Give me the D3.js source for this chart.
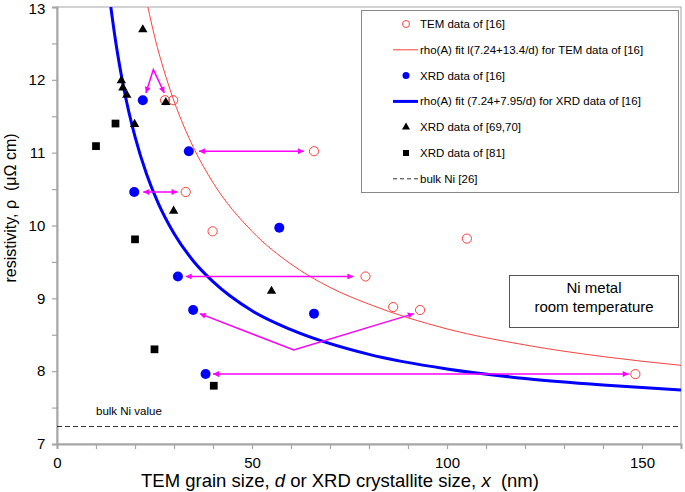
<!DOCTYPE html>
<html lang="en">
  <head>
    <title>Ni resistivity vs grain size</title>
    <script type="text/javascript" src="https://d3js.org/d3.v7.min.js"></script>
    <style>
      body { margin: 0; background: #fff; }
      text { font-family: Arial, "Liberation Sans", sans-serif; fill: #000; }
    </style>
  </head>

  <body>
    <div id="my_dataviz"></div>

    <script>
      // data
      const temX = [27.7, 29.8, 65.9, 33.0, 39.9, 105.1, 79.1, 86.2, 93.1, 148.3];
      const temY = [11.72, 11.72, 11.02, 10.46, 9.92, 9.82, 9.30, 8.88, 8.84, 7.96];

      const xrdX = [22.0, 33.8, 19.8, 57.0, 31.0, 34.9, 65.9, 38.1];
      const xrdY = [11.72, 11.02, 10.46, 9.97, 9.30, 8.84, 8.79, 7.96];

      const triX = [22.0, 16.5, 16.9, 17.9, 27.9, 19.9, 29.9, 55.0];
      const triY = [12.69, 11.99, 11.89, 11.79, 11.69, 11.39, 10.20, 9.10];

      const sqX = [10.0, 15.0, 20.0, 25.0, 40.2];
      const sqY = [11.09, 11.40, 9.81, 8.30, 7.80];

      // fit curves
      const temFitX = [23.3, 25, 28, 30, 35, 40, 50, 60, 70, 80, 100, 120, 140, 160];
      const temFitY = [13.0, 12.60, 12.03, 11.71, 11.07, 10.59, 9.92, 9.47, 9.15, 8.92, 8.58, 8.36, 8.20, 8.08];

      const xrdFitX = [13.8, 15, 17, 20, 23, 26, 30, 35, 40, 50, 60, 80, 100, 120, 140, 160];
      const xrdFitY = [13.0, 12.54, 11.92, 11.22, 10.70, 10.30, 9.89, 9.51, 9.23, 8.83, 8.57, 8.23, 8.03, 7.90, 7.81, 7.74];

      const bulkNi = 7.24;

      // magenta arrows: list of [x, y] points, head at both ends
      const arrows = [
        [[22.8, 11.82], [24.7, 12.14], [27.5, 11.82]],
        [[36.4, 11.02], [63.3, 11.02]],
        [[22.1, 10.46], [30.9, 10.46]],
        [[33.0, 9.30], [76.0, 9.30]],
        [[36.6, 8.79], [60.7, 8.29], [91.5, 8.79]],
        [[40.0, 7.96], [146.6, 7.96]]
      ];

      const xTicks = [0, 50, 100, 150];
      const yTicks = [7, 8, 9, 10, 11, 12, 13];

      const legendLabels = [
        "TEM data of [16]",
        "rho(A) fit l(7.24+13.4/d) for TEM data of [16]",
        "XRD data of [16]",
        "rho(A) fit (7.24+7.95/d) for XRD data of [16]",
        "XRD data of [69,70]",
        "XRD data of [81]",
        "bulk Ni [26]"
      ];

      const redC = "#ff4040", blueC = "#0000ff", magC = "#ff00ff", axisC = "#a6a6a6";

      let margin = {top: 7, right: 4, bottom: 48, left: 57},
      width = 685 - margin.left - margin.right,
      height = 492 - margin.top - margin.bottom;

      let svg = d3.select("#my_dataviz")
        .append("svg")
          .attr("width", 685)
          .attr("height", 492);

      let defs = svg.append("defs");
      defs.append("clipPath").attr("id", "clip")
        .append("rect").attr("width", width).attr("height", height);
      defs.append("marker")
          .attr("id", "head")
          .attr("viewBox", "0 0 10 10")
          .attr("refX", 10).attr("refY", 5)
          .attr("markerWidth", 5).attr("markerHeight", 4)
          .attr("markerUnits", "strokeWidth")
          .attr("orient", "auto-start-reverse")
        .append("path")
          .attr("d", "M0,0L10,5L0,10Z")
          .attr("fill", magC);

      let g = svg.append("g")
          .attr("transform", "translate(" + margin.left + "," + margin.top + ")");

      let x = d3.scaleLinear().domain([0, 160]).range([0, width]);
      let y = d3.scaleLinear().domain([7, 13]).range([height, 0]);

      // frame
      g.append("rect")
        .attr("width", width).attr("height", height)
        .attr("fill", "none").attr("stroke", axisC).attr("stroke-width", 1);

      // axes with minor ticks
      let xAxis = g.append("g")
        .attr("transform", "translate(0," + height + ")")
        .call(d3.axisBottom(x).tickValues(d3.range(0, 161, 10)).tickSize(5)
          .tickFormat(d => xTicks.includes(d) ? d : ""));
      let yAxis = g.append("g")
        .call(d3.axisLeft(y).tickValues(d3.range(7, 13.01, 0.5)).tickSize(5)
          .tickFormat(d => yTicks.includes(d) ? d : ""));
      [xAxis, yAxis].forEach(a => {
        a.select(".domain").attr("stroke", axisC).attr("stroke-width", 2);
        a.selectAll(".tick line").attr("stroke", axisC).attr("stroke-width", 1.2);
        a.selectAll("text").style("font-size", "15px").attr("fill", "#000");
      });
      xAxis.selectAll("text").attr("dy", "1.05em");
      yAxis.selectAll("text").attr("dx", "-0.25em")
        .attr("dy", d => d === 13 ? "0.45em" : "0.32em");

      // axis labels
      let xl = svg.append("text")
        .attr("x", 340).attr("y", 487)
        .attr("text-anchor", "middle")
        .style("font-size", "18.5px");
      xl.append("tspan").text("TEM grain size, ");
      xl.append("tspan").style("font-style", "italic").text("d");
      xl.append("tspan").text(" or XRD crystallite size, ");
      xl.append("tspan").style("font-style", "italic").text("x");
      xl.append("tspan").text("\u00a0 (nm)");

      svg.append("text")
        .attr("transform", "translate(16,208) rotate(-90)")
        .attr("text-anchor", "middle")
        .style("font-size", "16px")
        .text("resistivity, \u03c1 \u00a0(\u03bc\u03a9 cm)");

      let plot = g.append("g").attr("clip-path", "url(#clip)");

      // bulk line
      plot.append("line")
        .attr("x1", 0).attr("x2", width)
        .attr("y1", y(bulkNi)).attr("y2", y(bulkNi))
        .attr("stroke", "#333").attr("stroke-width", 1)
        .attr("stroke-dasharray", "5,3");
      g.append("text")
        .attr("x", x(10)).attr("y", y(bulkNi) - 12)
        .style("font-size", "11.5px")
        .text("bulk Ni value");

      // fit curves
      let line = d3.line()
        .x(d => x(d[0])).y(d => y(d[1]))
        .curve(d3.curveMonotoneX);
      plot.append("path")
        .datum(d3.zip(temFitX, temFitY))
        .attr("fill", "none").attr("stroke", redC).attr("stroke-width", 1)
        .attr("d", line);
      plot.append("path")
        .datum(d3.zip(xrdFitX, xrdFitY))
        .attr("fill", "none").attr("stroke", blueC).attr("stroke-width", 3)
        .attr("d", line);

      // arrows
      let arrowLine = d3.line().x(d => x(d[0])).y(d => y(d[1]));
      plot.selectAll(".arrow")
        .data(arrows)
        .enter().append("path")
          .attr("class", "arrow")
          .attr("fill", "none").attr("stroke", magC).attr("stroke-width", 1.5)
          .attr("marker-start", "url(#head)")
          .attr("marker-end", "url(#head)")
          .attr("d", arrowLine);

      // points
      plot.selectAll(".tem")
        .data(d3.zip(temX, temY))
        .enter().append("circle")
          .attr("cx", d => x(d[0])).attr("cy", d => y(d[1]))
          .attr("r", 4.6)
          .attr("fill", "none").attr("stroke", redC).attr("stroke-width", 1);
      plot.selectAll(".xrd")
        .data(d3.zip(xrdX, xrdY))
        .enter().append("circle")
          .attr("cx", d => x(d[0])).attr("cy", d => y(d[1]))
          .attr("r", 5)
          .attr("fill", blueC);
      let tri = d3.symbol().type(d3.symbolTriangle).size(38);
      plot.selectAll(".tri")
        .data(d3.zip(triX, triY))
        .enter().append("path")
          .attr("transform", d => "translate(" + x(d[0]) + "," + y(d[1]) + ")")
          .attr("d", tri)
          .attr("fill", "#000");
      let sq = d3.symbol().type(d3.symbolSquare).size(60);
      plot.selectAll(".sq")
        .data(d3.zip(sqX, sqY))
        .enter().append("path")
          .attr("transform", d => "translate(" + x(d[0]) + "," + y(d[1]) + ")")
          .attr("d", sq)
          .attr("fill", "#000");

      // note box
      svg.append("rect")
        .attr("x", 509.5).attr("y", 275.5).attr("width", 169).attr("height", 52)
        .attr("fill", "#fff").attr("stroke", "#555").attr("stroke-width", 1);
      svg.append("text").attr("x", 594).attr("y", 293)
        .attr("text-anchor", "middle").style("font-size", "15px").text("Ni metal");
      svg.append("text").attr("x", 594).attr("y", 312)
        .attr("text-anchor", "middle").style("font-size", "15px").text("room temperature");

      // legend
      let leg = svg.append("g");
      leg.append("rect")
        .attr("x", 361.5).attr("y", 10.5).attr("width", 317).attr("height", 182)
        .attr("fill", "#fff").attr("stroke", "#888").attr("stroke-width", 1);
      let rowY = i => 24 + i * 25.8;
      legendLabels.forEach((t, i) => {
        leg.append("text")
          .attr("x", 420).attr("y", rowY(i) + 4)
          .style("font-size", "11.5px")
          .text(t);
      });
      leg.append("circle").attr("cx", 406).attr("cy", rowY(0)).attr("r", 3.5)
        .attr("fill", "none").attr("stroke", redC).attr("stroke-width", 1);
      leg.append("line").attr("x1", 393).attr("x2", 418).attr("y1", rowY(1)).attr("y2", rowY(1))
        .attr("stroke", redC).attr("stroke-width", 1);
      leg.append("circle").attr("cx", 406).attr("cy", rowY(2)).attr("r", 3.5)
        .attr("fill", blueC);
      leg.append("line").attr("x1", 393).attr("x2", 418).attr("y1", rowY(3)).attr("y2", rowY(3))
        .attr("stroke", blueC).attr("stroke-width", 3);
      leg.append("path").attr("transform", "translate(406," + rowY(4) + ")")
        .attr("d", d3.symbol().type(d3.symbolTriangle).size(28)).attr("fill", "#000");
      leg.append("path").attr("transform", "translate(406," + rowY(5) + ")")
        .attr("d", d3.symbol().type(d3.symbolSquare).size(36)).attr("fill", "#000");
      leg.append("line").attr("x1", 393).attr("x2", 418).attr("y1", rowY(6)).attr("y2", rowY(6))
        .attr("stroke", "#333").attr("stroke-width", 1).attr("stroke-dasharray", "4,3");
    </script>

  </body>
</html>
